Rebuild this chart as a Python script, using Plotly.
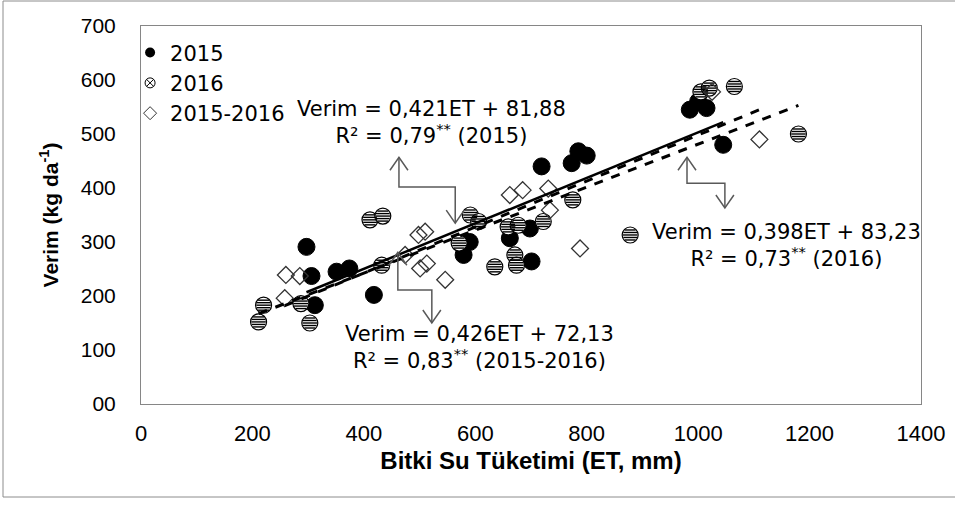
import plotly.graph_objects as go

# ---------------- data ----------------
x2015 = [297, 306, 312, 351, 374, 418, 579, 590, 662, 698, 701, 719, 773, 785, 800, 985, 1000, 1015, 1045]
y2015 = [291, 237, 183, 245, 251, 202, 276, 300, 307, 325, 264, 440, 446, 468, 460, 545, 560, 548, 480]

x2016 = [211, 220, 287, 303, 411, 434, 432, 571, 591, 606, 635, 659, 677, 671, 674, 722, 775, 878, 1005, 1020, 1065, 1180]
y2016 = [152, 183, 186, 150, 341, 348, 257, 298, 350, 338, 254, 328, 331, 276, 257, 338, 378, 313, 578, 585, 588, 500]

xall = [258, 260, 285, 474, 498, 510, 501, 513, 546, 662, 685, 731, 734, 788, 1025, 1110]
yall = [196, 239, 237, 276, 313, 319, 251, 260, 230, 387, 396, 399, 359, 288, 578, 490]

fit_names = ["2015", "2016", "2015-2016"]
fit_slopes = [0.421, 0.398, 0.426]
fit_intercepts = [81.88, 83.23, 72.13]

x_tickvals = [0, 200, 400, 600, 800, 1000, 1200, 1400]
y_tickvals = [0, 100, 200, 300, 400, 500, 600, 700]
y_ticktext = ["00", "100", "200", "300", "400", "500", "600", "700"]

eq_texts = [
    "Verim = 0,421ET + 81,88<br>R² = 0,79<sup>**</sup> (2015)",
    "Verim = 0,398ET + 83,23<br>R² = 0,73<sup>**</sup> (2016)",
    "Verim = 0,426ET + 72,13<br>R² = 0,83<sup>**</sup> (2015-2016)",
]

# ---------------- layout geometry ----------------
W, H = 955, 515
ML, MR, MT, MB = 141, 34, 26, 111
PW, PH = W - ML - MR, H - MT - MB
XR, YR = [0, 1400], [0, 700]
dy = (YR[1] - YR[0]) / PH  # data units per pixel (y)

FONT = "Liberation Sans, Arial, sans-serif"
TFONT = "DejaVu Sans, sans-serif"
fig = go.Figure()

# 2015: filled black circles
fig.add_trace(go.Scatter(x=x2015, y=y2015, mode="markers", showlegend=False,
                         marker=dict(symbol="circle", size=17, color="black",
                                     line=dict(color="black", width=1))))

# 2016: hatched circles (white circle + horizontal stripes)
R = 8.0
fig.add_trace(go.Scatter(x=x2016, y=y2016, mode="markers", showlegend=False,
                         marker=dict(symbol="circle", size=2 * R, color="white",
                                     line=dict(color="black", width=1.2))))
for off in [-5.0, -2.5, 0.0, 2.5, 5.0]:
    chord = 2 * (max(R * R - off * off, 0)) ** 0.5 - 1.5
    fig.add_trace(go.Scatter(x=x2016, y=[v + off * dy for v in y2016], mode="markers",
                             showlegend=False, hoverinfo="skip",
                             marker=dict(symbol="line-ew", size=chord / 1.4,
                                         line=dict(color="black", width=1.4))))

# 2015-2016: open diamonds
fig.add_trace(go.Scatter(x=xall, y=yall, mode="markers", showlegend=False,
                         marker=dict(symbol="diamond-open", size=13, color="#333333",
                                     line=dict(color="#333333", width=1.3))))

# trendlines
ranges = [(min(x2015), max(x2015)), (min(x2016), max(x2016)), (min(xall), max(xall))]
dashes = ["solid", "dash", "dash"]
widths = [2.5, 3, 3]
for (x0, x1), a, b, d, w in zip(ranges, fit_slopes, fit_intercepts, dashes, widths):
    fig.add_trace(go.Scatter(x=[x0, x1], y=[a * x0 + b, a * x1 + b], mode="lines",
                             showlegend=False, hoverinfo="skip",
                             line=dict(color="black", width=w, dash=d)))

# legend entries (small symbols, as in the reference)
fig.add_trace(go.Scatter(x=[None], y=[None], mode="markers", name="2015",
                         marker=dict(symbol="circle", size=10, color="black")))
fig.add_trace(go.Scatter(x=[None], y=[None], mode="markers", name="2016",
                         marker=dict(symbol="circle-x", size=10, color="white",
                                     line=dict(color="black", width=1))))
fig.add_trace(go.Scatter(x=[None], y=[None], mode="markers", name="2015-2016",
                         marker=dict(symbol="diamond-open", size=10, color="#333333",
                                     line=dict(color="#333333", width=1))))

# equation labels
label_pos = [(522, 522), (1158, 293), (608, 104)]
for (lx, ly), t in zip(label_pos, eq_texts):
    fig.add_annotation(x=lx, y=ly, xref="x", yref="y", text=t, showarrow=False,
                       align="center", font=dict(family=TFONT, size=21, color="black"))

# elbow connectors with open arrowheads
conn_color = "#595959"
connectors = [
    [(463, 457), (463, 402), (564, 402), (564, 335)],
    [(980, 457), (980, 409), (1048, 409), (1048, 363)],
    [(461, 281), (461, 211), (522, 211), (522, 150)],
]
for pts in connectors:
    path = "M " + " L ".join(f"{px},{py}" for px, py in pts)
    fig.add_shape(type="path", path=path, xref="x", yref="y",
                  line=dict(color=conn_color, width=1.5))
    (sx, sy), (ex, ey) = pts[0], pts[-1]
    fig.add_shape(type="path", xref="x", yref="y", xsizemode="pixel", ysizemode="pixel",
                  xanchor=sx, yanchor=sy, path="M -9,-13 L 0,0 L 9,-13",
                  line=dict(color=conn_color, width=1.5))
    fig.add_shape(type="path", xref="x", yref="y", xsizemode="pixel", ysizemode="pixel",
                  xanchor=ex, yanchor=ey, path="M -9,13 L 0,0 L 9,13",
                  line=dict(color=conn_color, width=1.5))

# outer chart-area border
fig.add_shape(type="rect", xref="paper", yref="paper",
              x0=(3 - ML) / PW, x1=(W + 5 - ML) / PW,
              y0=(MT + PH - 497) / PH, y1=(MT + PH - 1) / PH,
              line=dict(color="#8c8c8c", width=1))

fig.update_layout(
    width=W, height=H,
    margin=dict(l=ML, r=MR, t=MT, b=MB, autoexpand=False),
    paper_bgcolor="white", plot_bgcolor="white",
    font=dict(family=FONT, size=21, color="black"),
    legend=dict(x=-0.014, y=0.983, xanchor="left", yanchor="top",
                bgcolor="rgba(0,0,0,0)", font=dict(family=TFONT, size=21),
                itemsizing="trace", tracegroupgap=0),
    xaxis=dict(range=XR, tickvals=x_tickvals, showgrid=False, zeroline=False,
               showline=True, mirror=True, linecolor="#868686", linewidth=1,
               ticks="", ticklabelstandoff=10, tickfont=dict(size=22),
               automargin=False,
               title=dict(text="<b>Bitki Su Tüketimi (ET, mm)</b>", standoff=6,
                          font=dict(size=24))),
    yaxis=dict(range=YR, tickvals=y_tickvals, ticktext=y_ticktext, showgrid=False,
               zeroline=False, showline=True, mirror=True, linecolor="#868686",
               linewidth=1, ticks="", ticklabelstandoff=20, tickfont=dict(size=21),
               automargin=False,
               title=dict(text="<b>Verim (kg da<sup>-1</sup>)</b>", standoff=16,
                          font=dict(size=21))),
)

fig.write_html("out.html", config={"displayModeBar": False},
               post_script="document.body.style.margin='0px';")
